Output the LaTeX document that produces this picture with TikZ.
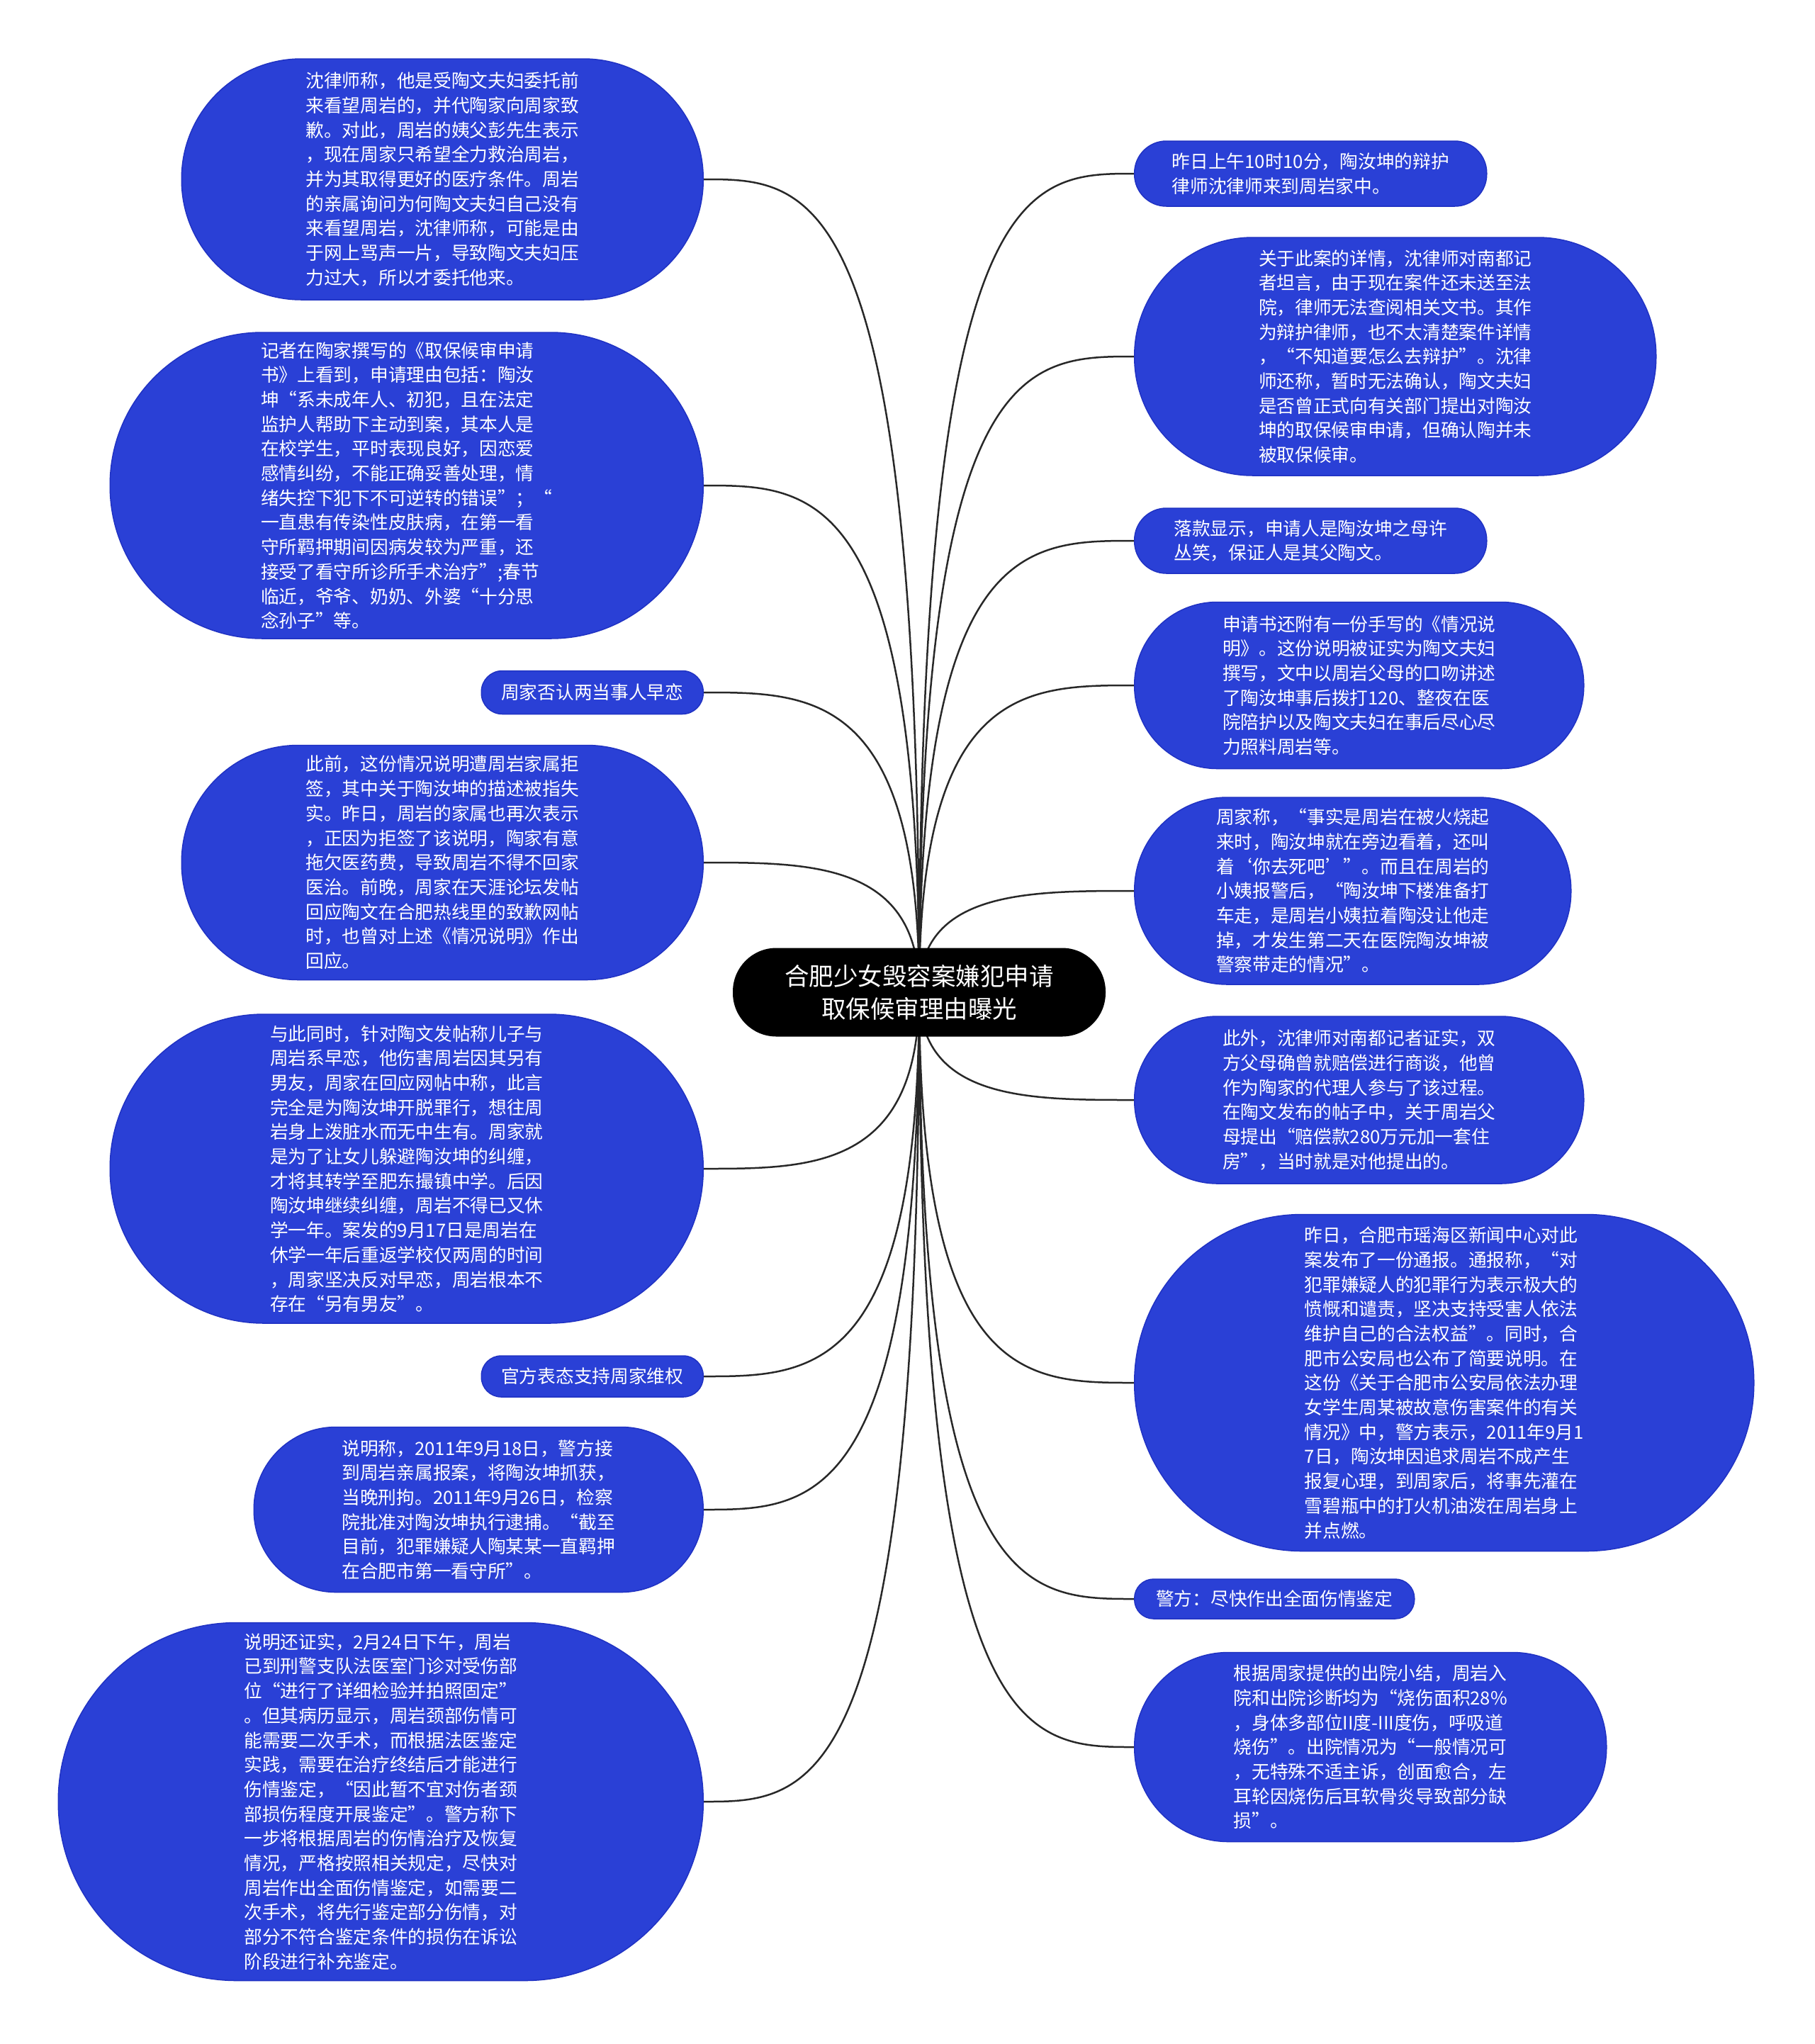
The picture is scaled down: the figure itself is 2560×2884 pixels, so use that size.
\documentclass[tikz,border=0pt]{standalone}
\usepackage{fontspec}
\setmainfont{Noto Sans CJK SC}
\usetikzlibrary{calc}
\definecolor{nblue}{RGB}{42,64,214}
\definecolor{nedge}{RGB}{32,50,195}
\definecolor{lnk}{RGB}{40,40,40}
\pgfdeclarelayer{bg}
\pgfsetlayers{bg,main}
\tikzset{
  leaf/.style={fill=nblue, draw=nedge, line width=1.5pt, text=white, align=left, inner sep=0pt,
    font=\fontsize{25.7}{34.7}\selectfont},
  pill/.style 2 args={minimum width=#1pt, minimum height=#2pt, rounded corners={(#2/2-1)*1pt}},
  root/.style={fill=black, text=white, align=center, inner sep=0pt,
    font=\fontsize{34.5}{46}\selectfont, minimum width=526pt, minimum height=125pt, rounded corners=61.5pt},
  conn/.style={draw=lnk, line width=2.5pt},
}
\newcommand{\mmlink}[2]{\draw[conn] (c.center) .. controls ($(c.center |- #1.#2)$) and ($(c.center |- #1.#2)!0.5!(#1.#2)$) .. (#1.#2);}
\begin{document}
\begin{tikzpicture}[x=1pt,y=-1pt]
\useasboundingbox (0,0) rectangle (2560,2884);

\node[root] (c) at (1297,1400) {合肥少女毁容案嫌犯申请\\取保候审理由曝光};

% left side
\node[leaf, pill={736}{340}, anchor=east] (l1) at (993,253) {沈律师称，他是受陶文夫妇委托前\\来看望周岩的，并代陶家向周家致\\歉。对此，周岩的姨父彭先生表示\\，现在周家只希望全力救治周岩，\\并为其取得更好的医疗条件。周岩\\的亲属询问为何陶文夫妇自己没有\\来看望周岩，沈律师称，可能是由\\于网上骂声一片，导致陶文夫妇压\\力过大，所以才委托他来。};

\node[leaf, pill={837}{432}, anchor=east] (l2) at (993,685) {记者在陶家撰写的《取保候审申请\\书》上看到，申请理由包括：陶汝\\坤“系未成年人、初犯，且在法定\\监护人帮助下主动到案，其本人是\\在校学生，平时表现良好，因恋爱\\感情纠纷，不能正确妥善处理，情\\绪失控下犯下不可逆转的错误”；“\\一直患有传染性皮肤病，在第一看\\守所羁押期间因病发较为严重，还\\接受了看守所诊所手术治疗”;春节\\临近，爷爷、奶奶、外婆“十分思\\念孙子”等。};

\node[leaf, pill={313}{61}, anchor=east] (l3) at (993,977) {周家否认两当事人早恋};

\node[leaf, pill={736}{331}, anchor=east] (l4) at (993,1217) {此前，这份情况说明遭周岩家属拒\\签，其中关于陶汝坤的描述被指失\\实。昨日，周岩的家属也再次表示\\，正因为拒签了该说明，陶家有意\\拖欠医药费，导致周岩不得不回家\\医治。前晚，周家在天涯论坛发帖\\回应陶文在合肥热线里的致歉网帖\\时，也曾对上述《情况说明》作出\\回应。};

\node[leaf, pill={837}{436}, anchor=east] (l5) at (993,1649) {与此同时，针对陶文发帖称儿子与\\周岩系早恋，他伤害周岩因其另有\\男友，周家在回应网帖中称，此言\\完全是为陶汝坤开脱罪行，想往周\\岩身上泼脏水而无中生有。周家就\\是为了让女儿躲避陶汝坤的纠缠，\\才将其转学至肥东撮镇中学。后因\\陶汝坤继续纠缠，周岩不得已又休\\学一年。案发的9月17日是周岩在\\休学一年后重返学校仅两周的时间\\，周家坚决反对早恋，周岩根本不\\存在“另有男友”。};

\node[leaf, pill={313}{58}, anchor=east] (l6) at (993,1942) {官方表态支持周家维权};

\node[leaf, pill={634}{233}, anchor=east] (l7) at (993,2130) {说明称，2011年9月18日，警方接\\到周岩亲属报案，将陶汝坤抓获，\\当晚刑拘。2011年9月26日，检察\\院批准对陶汝坤执行逮捕。“截至\\目前，犯罪嫌疑人陶某某一直羁押\\在合肥市第一看守所”。};

\node[leaf, pill={910}{505}, anchor=east] (l8) at (993,2542) {说明还证实，2月24日下午，周岩\\已到刑警支队法医室门诊对受伤部\\位“进行了详细检验并拍照固定”\\。但其病历显示，周岩颈部伤情可\\能需要二次手术，而根据法医鉴定\\实践，需要在治疗终结后才能进行\\伤情鉴定，“因此暂不宜对伤者颈\\部损伤程度开展鉴定”。警方称下\\一步将根据周岩的伤情治疗及恢复\\情况，严格按照相关规定，尽快对\\周岩作出全面伤情鉴定，如需要二\\次手术，将先行鉴定部分伤情，对\\部分不符合鉴定条件的损伤在诉讼\\阶段进行补充鉴定。};

% right side
\node[leaf, pill={497}{92}, anchor=west] (r1) at (1600,245) {昨日上午10时10分，陶汝坤的辩护\\律师沈律师来到周岩家中。};

\node[leaf, pill={736}{336}, anchor=west] (r2) at (1600,503) {关于此案的详情，沈律师对南都记\\者坦言，由于现在案件还未送至法\\院，律师无法查阅相关文书。其作\\为辩护律师，也不太清楚案件详情\\，“不知道要怎么去辩护”。沈律\\师还称，暂时无法确认，陶文夫妇\\是否曾正式向有关部门提出对陶汝\\坤的取保候审申请，但确认陶并未\\被取保候审。};

\node[leaf, pill={497}{92}, anchor=west] (r3) at (1600,763) {落款显示，申请人是陶汝坤之母许\\丛笑，保证人是其父陶文。};

\node[leaf, pill={634}{235}, anchor=west] (r4) at (1600,967) {申请书还附有一份手写的《情况说\\明》。这份说明被证实为陶文夫妇\\撰写，文中以周岩父母的口吻讲述\\了陶汝坤事后拨打120、整夜在医\\院陪护以及陶文夫妇在事后尽心尽\\力照料周岩等。};

\node[leaf, pill={616}{264}, anchor=west] (r5) at (1600,1257) {周家称，“事实是周岩在被火烧起\\来时，陶汝坤就在旁边看着，还叫\\着‘你去死吧’”。而且在周岩的\\小姨报警后，“陶汝坤下楼准备打\\车走，是周岩小姨拉着陶没让他走\\掉，才发生第二天在医院陶汝坤被\\警察带走的情况”。};

\node[leaf, pill={634}{236}, anchor=west] (r6) at (1600,1552) {此外，沈律师对南都记者证实，双\\方父母确曾就赔偿进行商谈，他曾\\作为陶家的代理人参与了该过程。\\在陶文发布的帖子中，关于周岩父\\母提出“赔偿款280万元加一套住\\房”，当时就是对他提出的。};

\node[leaf, pill={874}{475}, anchor=west] (r7) at (1600,1951) {昨日，合肥市瑶海区新闻中心对此\\案发布了一份通报。通报称，“对\\犯罪嫌疑人的犯罪行为表示极大的\\愤慨和谴责，坚决支持受害人依法\\维护自己的合法权益”。同时，合\\肥市公安局也公布了简要说明。在\\这份《关于合肥市公安局依法办理\\女学生周某被故意伤害案件的有关\\情况》中，警方表示，2011年9月1\\7日，陶汝坤因追求周岩不成产生\\报复心理，到周家后，将事先灌在\\雪碧瓶中的打火机油泼在周岩身上\\并点燃。};

\node[leaf, pill={395}{56}, anchor=west] (r8) at (1600,2256) {警方：尽快作出全面伤情鉴定};

\node[leaf, pill={666}{267}, anchor=west] (r9) at (1600,2465) {根据周家提供的出院小结，周岩入\\院和出院诊断均为“烧伤面积28\%\\，身体多部位II度-III度伤，呼吸道\\烧伤”。出院情况为“一般情况可\\，无特殊不适主诉，创面愈合，左\\耳轮因烧伤后耳软骨炎导致部分缺\\损”。};

\begin{pgfonlayer}{bg}
\fill[white] (0,0) rectangle (2560,2884);
\mmlink{l1}{east}
\mmlink{l2}{east}
\mmlink{l3}{east}
\mmlink{l4}{east}
\mmlink{l5}{east}
\mmlink{l6}{east}
\mmlink{l7}{east}
\mmlink{l8}{east}
\mmlink{r1}{west}
\mmlink{r2}{west}
\mmlink{r3}{west}
\mmlink{r4}{west}
\mmlink{r5}{west}
\mmlink{r6}{west}
\mmlink{r7}{west}
\mmlink{r8}{west}
\mmlink{r9}{west}
\end{pgfonlayer}
\end{tikzpicture}
\end{document}
